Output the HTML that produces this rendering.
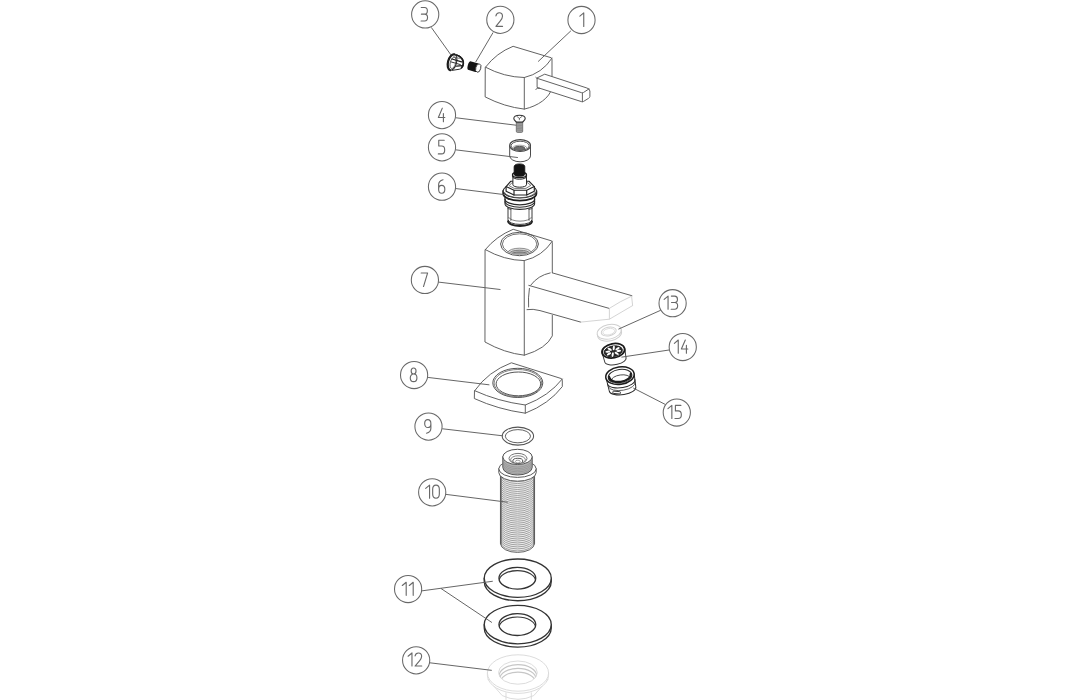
<!DOCTYPE html>
<html><head><meta charset="utf-8"><title>Exploded tap diagram</title>
<style>
html,body{margin:0;padding:0;background:#fff;font-family:"Liberation Sans",sans-serif;}
svg{display:block}
</style></head><body>
<svg width="1091" height="700" viewBox="0 0 1091 700">
<rect width="1091" height="700" fill="#fff"/>
<path d="M485.5,67.2 Q496.5,52.8 513.1,46.3 L551.0,57.7 Q552.0,58.1 552.0,59.300000000000004 L552.0,88 C549.5,98 538,106 524.3,109.1 Q504.6,106.9 485.5,97.1 Z" fill="#fff" stroke="#5a5a5a" stroke-width="0.95" stroke-linecap="round" stroke-linejoin="round" />
<path d="M485.5,67.2 Q504,77.1 524.3,77.5 Q542.1,73.4 552.0,58.1" fill="none" stroke="#5a5a5a" stroke-width="0.95" stroke-linecap="round" stroke-linejoin="round" />
<line x1="524.3" y1="77.5" x2="524.3" y2="109.1" stroke="#5a5a5a" stroke-width="0.95" stroke-linecap="round"/>
<path d="M545.1,74.3 L586.9,88 Q589.6,88.6 589.9,91 L589.9,96.4 Q589.8,97.6 588.6,98.3 L583.6,101.4 Q582.6,102 581.4,101.6 L537.1,87.4 L537.1,78.3 Z" fill="#fff" stroke="#5a5a5a" stroke-width="0.95" stroke-linecap="round" stroke-linejoin="round" />
<path d="M537.1,78.3 L581.6,92.7 Q582.6,93 583.6,92.4 L589,88.9" fill="none" stroke="#5a5a5a" stroke-width="0.95" stroke-linecap="round" stroke-linejoin="round" />
<line x1="582.4" y1="93" x2="582.4" y2="101.7" stroke="#5a5a5a" stroke-width="0.95" stroke-linecap="round"/>
<path d="M535.8,77.4 Q536.6,78.2 537.1,78.3" fill="none" stroke="#5a5a5a" stroke-width="0.95" stroke-linecap="round" stroke-linejoin="round" />
<path d="M535.8,89.2 Q537,88 539.6,88.2" fill="none" stroke="#5a5a5a" stroke-width="0.95" stroke-linecap="round" stroke-linejoin="round" />
<g transform="rotate(15.5 474.5 67)">
<rect x="467.6" y="62.5" width="11.2" height="9.0" rx="2.2" ry="4.2" fill="#151515"/>
<ellipse cx="478.4" cy="67.0" rx="2.5" ry="4.3" fill="#fff" stroke="#3a3a3a" stroke-width="0.9"/>
</g>
<path d="M454.6,54.6 C458.6,54.8 461.8,56.6 462.9,59.4 L463.4,64.2 C463.4,66.8 462,68.6 459.6,69.2 L452.6,70.3 Z" fill="#fff" stroke="#2a2a2a" stroke-width="1.0" stroke-linecap="round" stroke-linejoin="round" />
<path d="M456.4,55.0 C460.6,56.4 463.9,60 463.3,63.6 Q463,66 461.6,67.6" fill="none" stroke="#1c1c1c" stroke-width="1.7" stroke-linecap="round" stroke-linejoin="round" />
<g transform="rotate(15 452.3 62.3)">
<ellipse cx="452.3" cy="62.3" rx="4.3" ry="8.2" fill="#fff" stroke="#1c1c1c" stroke-width="1.0"/>
<path d="M452.3,54.1 A4.3,8.2 0 0 0 452.3,70.5" fill="none" stroke="#1c1c1c" stroke-width="2.2" stroke-linecap="round" stroke-linejoin="round" />
<ellipse cx="453.1" cy="62.6" rx="2.7" ry="5.8" fill="none" stroke="#444" stroke-width="0.8"/>
</g>
<line x1="452.0" y1="59.0" x2="461.6" y2="61.9" stroke="#1c1c1c" stroke-width="1.3" stroke-linecap="round"/>
<line x1="451.4" y1="62.0" x2="460.4" y2="64.6" stroke="#333" stroke-width="1.0" stroke-linecap="round"/>
<line x1="456.6" y1="66.2" x2="462.4" y2="65.6" stroke="#1c1c1c" stroke-width="1.2" stroke-linecap="round"/>
<line x1="453.6" y1="57.0" x2="459.4" y2="58.4" stroke="#555" stroke-width="0.8" stroke-linecap="round"/>
<rect x="516.3" y="121.2" width="6.4" height="11.2" rx="1.2" fill="#a2a2a2" stroke="#666" stroke-width="0.8"/>
<line x1="516.6" y1="123.6" x2="522.4" y2="124.1" stroke="#7a7a7a" stroke-width="0.6" stroke-linecap="round"/>
<line x1="516.6" y1="125.2" x2="522.4" y2="125.7" stroke="#7a7a7a" stroke-width="0.6" stroke-linecap="round"/>
<line x1="516.6" y1="126.8" x2="522.4" y2="127.3" stroke="#7a7a7a" stroke-width="0.6" stroke-linecap="round"/>
<line x1="516.6" y1="128.4" x2="522.4" y2="128.9" stroke="#7a7a7a" stroke-width="0.6" stroke-linecap="round"/>
<line x1="516.6" y1="130.0" x2="522.4" y2="130.5" stroke="#7a7a7a" stroke-width="0.6" stroke-linecap="round"/>
<path d="M513.8,118.5 C513.8,116.4 516.4,115.2 519.5,115.2 C522.6,115.2 525.2,116.4 525.2,118.5 C525.2,120.3 523.2,121.2 522.6,122.1 L516.4,122.1 C515.8,121.2 513.8,120.3 513.8,118.5 Z" fill="#fff" stroke="#333" stroke-width="1.1" stroke-linecap="round" stroke-linejoin="round" />
<path d="M517.0,116.5 L519.4,118.4 L522.0,116.4 M519.4,118.4 L519.4,119.8" fill="none" stroke="#555" stroke-width="0.8" stroke-linecap="round" stroke-linejoin="round" />
<path d="M509.70000000000005,145.6 L509.70000000000005,155.9 A10.4,5.9 0 0 0 530.5,155.9 L530.5,145.6" fill="#fff" stroke="#4a4a4a" stroke-width="1.0" stroke-linecap="round" stroke-linejoin="round" />
<ellipse cx="520.1" cy="145.5" rx="10.4" ry="5.9" fill="#fff" stroke="#444" stroke-width="1.1"/>
<ellipse cx="520.1" cy="145.8" rx="9.1" ry="4.6" fill="none" stroke="#555" stroke-width="1.0"/>
<clipPath id="c5"><ellipse cx="520.1" cy="145.8" rx="9.1" ry="4.6"/></clipPath>
<g clip-path="url(#c5)">
<ellipse cx="519.8000000000001" cy="148.3" rx="7.2" ry="3.1" fill="none" stroke="#8a8a8a" stroke-width="0.8"/>
<ellipse cx="519.5" cy="148.5" rx="5.4" ry="2.1" fill="#6e6e6e" stroke="#444" stroke-width="0.9"/>
</g>
<path d="M508.0,204 L508.0,219.6 A12,4.8 0 0 0 532.0,219.6 L532.0,204 Z" fill="#fff" stroke="#3a3a3a" stroke-width="1.0" stroke-linecap="round" stroke-linejoin="round" />
<path d="M508.0,221.2 A12,4.8 0 0 0 532.0,221.2" fill="none" stroke="#222" stroke-width="1.9" stroke-linecap="round" stroke-linejoin="round" />
<path d="M508.6,217.4 A11.6,4.6 0 0 0 531.4,217.4" fill="none" stroke="#666" stroke-width="0.8" stroke-linecap="round" stroke-linejoin="round" />
<line x1="510.9" y1="207.5" x2="510.9" y2="220.4" stroke="#555" stroke-width="0.9" stroke-linecap="round"/>
<line x1="529.0" y1="207.5" x2="529.0" y2="220.4" stroke="#555" stroke-width="0.9" stroke-linecap="round"/>
<path d="M508.0,208.6 L510.9,209.4 M532.0,208.6 L529.0,209.4" fill="none" stroke="#444" stroke-width="0.9" stroke-linecap="round" stroke-linejoin="round" />
<path d="M505.0,196 L505.0,203.8 A14.8,5.6 0 0 0 534.6,203.8 L534.6,196 Z" fill="#fff" stroke="#2a2a2a" stroke-width="1.1" stroke-linecap="round" stroke-linejoin="round" />
<path d="M505.0,199.2 A14.8,5.6 0 0 0 534.6,199.2" fill="none" stroke="#2a2a2a" stroke-width="1.3" stroke-linecap="round" stroke-linejoin="round" />
<path d="M505.0,201.6 A14.8,5.6 0 0 0 534.6,201.6" fill="none" stroke="#2a2a2a" stroke-width="1.1" stroke-linecap="round" stroke-linejoin="round" />
<path d="M503.2,191 L503.2,193.6 A16.6,7 0 0 0 536.4,193.6 L536.4,191 Z" fill="#fff" stroke="#1e1e1e" stroke-width="1.8" stroke-linecap="round" stroke-linejoin="round" />
<ellipse cx="519.8" cy="191" rx="16.6" ry="7" fill="#fff" stroke="#2a2a2a" stroke-width="1.1"/>
<path d="M504.4,192.4 A15.6,6.3 0 0 0 535.2,192.4" fill="none" stroke="#555" stroke-width="0.8" stroke-linecap="round" stroke-linejoin="round" />
<path d="M506.1,186.6 L510.9,181.2 L528.9,181.2 L534.3,186.6 L534.3,191.2 L526.7,195.0 L514.0,195.0 L506.1,191.2 Z" fill="#fff" stroke="#222" stroke-width="1.15" stroke-linecap="round" stroke-linejoin="round" />
<path d="M506.1,186.6 L514.0,190.2 L526.7,190.2 L534.3,186.6 M514.0,190.2 L514.0,195.0 M526.7,190.2 L526.7,195.0" fill="none" stroke="#222" stroke-width="1.15" stroke-linecap="round" stroke-linejoin="round" />
<path d="M509.4,185.4 L511.9,182.8 L527.8,182.8 L530.8,185.4 L525.9,188.4 L514.6,188.4 Z" fill="none" stroke="#555" stroke-width="0.8" stroke-linecap="round" stroke-linejoin="round" />
<path d="M512.9,175.4 L512.9,184.8 A6.8,2.4 0 0 0 526.5,184.8 L526.5,175.4 Z" fill="#fff" stroke="#2a2a2a" stroke-width="1.0" stroke-linecap="round" stroke-linejoin="round" />
<path d="M512.5,174.9 L512.5,176.6 A7,2.6 0 0 0 526.5,176.6 L526.5,174.9 Z" fill="#fff" stroke="#222" stroke-width="1.0" stroke-linecap="round" stroke-linejoin="round" />
<ellipse cx="519.5" cy="174.9" rx="7.0" ry="2.6" fill="#fff" stroke="#1e1e1e" stroke-width="1.4"/>
<path d="M514.1,166.6 Q514.1,163.9 519.4,163.9 Q524.8,163.9 524.8,166.6 L524.8,174.4 A5.35,1.9 0 0 1 514.1,174.4 Z" fill="#141414" stroke="#141414" stroke-width="0.8" stroke-linecap="round" stroke-linejoin="round" />
<path d="M485.3,249.6 Q496.5,236 513.2,229.3 L551.3,240.79999999999998 Q552.3,241.2 552.3,242.39999999999998 L552.3,335.9 Q546.4,348.6 524.3,355.2 Q504.6,353 485.3,342.2 Z" fill="#fff" stroke="#5a5a5a" stroke-width="0.95" stroke-linecap="round" stroke-linejoin="round" />
<path d="M485.3,249.6 Q504,260.2 524.2,260.6 Q542.3,256.4 552.3,241.2" fill="none" stroke="#5a5a5a" stroke-width="0.95" stroke-linecap="round" stroke-linejoin="round" />
<line x1="524.2" y1="260.6" x2="524.3" y2="355.2" stroke="#5a5a5a" stroke-width="0.95" stroke-linecap="round"/>
<ellipse cx="519.5" cy="244.0" rx="18.9" ry="11.7" fill="none" stroke="#555" stroke-width="1.0"/>
<ellipse cx="519.6" cy="244.1" rx="17.2" ry="10.3" fill="none" stroke="#666" stroke-width="0.9"/>
<clipPath id="c7"><ellipse cx="519.6" cy="244.1" rx="17.2" ry="10.3"/></clipPath>
<g clip-path="url(#c7)">
<ellipse cx="519.6" cy="252.4" rx="11.5" ry="4.2" fill="#ddd" stroke="#777" stroke-width="0.8"/>
<ellipse cx="519.6" cy="253.4" rx="10" ry="3.2" fill="#bbb" stroke="#666" stroke-width="0.8"/>
<ellipse cx="519.6" cy="254.4" rx="8.4" ry="2.4" fill="#999" stroke="#666" stroke-width="0.8"/>
</g>
<path d="M552.4,272.9 L632.1,295.7 L632.9,304.6 Q632.9,305.6 632,306.2 L610.4,318.6 Q609.3,319.3 608,319.4 L581.6,322 Q580.4,322 579.2,321.7 L552.4,315 L527.4,309.2 L529.3,288 L531,285 Q538,275 550,272.9 Z" fill="#fff" stroke="none" stroke-width="0" stroke-linecap="round" stroke-linejoin="round" />
<path d="M552.4,272.9 L631.9,295.7" fill="none" stroke="#5a5a5a" stroke-width="0.95" stroke-linecap="round" stroke-linejoin="round" />
<path d="M528.8,285.4 L609.2,308.4" fill="none" stroke="#5a5a5a" stroke-width="0.95" stroke-linecap="round" stroke-linejoin="round" />
<path d="M609.6,308.2 Q620,301.4 631.6,296.2 L632.6,305.4" fill="none" stroke="#d2d2d2" stroke-width="0.95" stroke-linecap="round" stroke-linejoin="round" />
<line x1="609.4" y1="308.8" x2="609.4" y2="319" stroke="#d2d2d2" stroke-width="0.95" stroke-linecap="round"/>
<path d="M550.2,272.9 Q538,275.4 530.7,285.2" fill="none" stroke="#5a5a5a" stroke-width="0.95" stroke-linecap="round" stroke-linejoin="round" />
<path d="M529.4,288.4 Q528,298 528.6,307" fill="none" stroke="#5a5a5a" stroke-width="0.95" stroke-linecap="round" stroke-linejoin="round" />
<path d="M527,309.6 Q533,308.6 540,310.6 L580.7,322.1" fill="none" stroke="#5a5a5a" stroke-width="0.95" stroke-linecap="round" stroke-linejoin="round" />
<path d="M580.7,322.1 L609.4,319.2 L632.6,305.6" fill="none" stroke="#d2d2d2" stroke-width="0.95" stroke-linecap="round" stroke-linejoin="round" />
<g transform="rotate(-12 609.2 331.8)">
<path d="M597.0,331.8 L597.0,333.8 A12.2,7.2 0 0 0 621.4,333.8 L621.4,331.8" fill="#fff" stroke="#cfcfcf" stroke-width="0.95" stroke-linecap="round" stroke-linejoin="round" />
<ellipse cx="609.2" cy="331.8" rx="12.2" ry="7.2" fill="#fff" stroke="#cfcfcf" stroke-width="0.95"/>
<ellipse cx="608.8" cy="331.4" rx="7.6" ry="4.3" fill="none" stroke="#cfcfcf" stroke-width="0.95"/>
<ellipse cx="608.8" cy="331.6" rx="6.0" ry="3.1" fill="none" stroke="#d8d8d8" stroke-width="0.8"/>
</g>
<g transform="rotate(-11 613.1 350.6)">
<path d="M601.9,351 L602.8,360.6 A10.8,4.6 0 0 0 624.4,359.8 L625.0,351 Z" fill="#fff" stroke="#3a3a3a" stroke-width="0.95" stroke-linecap="round" stroke-linejoin="round" />
<ellipse cx="613.3" cy="350.8" rx="11.5" ry="7.1" fill="#fff" stroke="#1a1a1a" stroke-width="1.8"/>
<ellipse cx="613.1" cy="351.3" rx="9.3" ry="5.3" fill="#2a2a2a" stroke="#1a1a1a" stroke-width="0.8"/>
<ellipse cx="618.58" cy="351.97" rx="2.4" ry="1.05" fill="#fff" transform="rotate(6.9 618.58 351.97)"/>
<ellipse cx="616.15" cy="353.98" rx="2.4" ry="1.05" fill="#fff" transform="rotate(41.3 616.15 353.98)"/>
<ellipse cx="611.94" cy="354.43" rx="2.4" ry="1.05" fill="#fff" transform="rotate(110.4 611.94 354.43)"/>
<ellipse cx="608.40" cy="353.04" rx="2.4" ry="1.05" fill="#fff" transform="rotate(159.6 608.40 353.04)"/>
<ellipse cx="607.62" cy="350.63" rx="2.4" ry="1.05" fill="#fff" transform="rotate(-173.1 607.62 350.63)"/>
<ellipse cx="610.05" cy="348.62" rx="2.4" ry="1.05" fill="#fff" transform="rotate(-138.7 610.05 348.62)"/>
<ellipse cx="614.26" cy="348.17" rx="2.4" ry="1.05" fill="#fff" transform="rotate(-69.6 614.26 348.17)"/>
<ellipse cx="617.80" cy="349.56" rx="2.4" ry="1.05" fill="#fff" transform="rotate(-20.4 617.80 349.56)"/>
</g>
<g transform="rotate(-8 620.3 378)">
<path d="M606.2,376 L607.6,389.6 A13.4,5.6 0 0 0 634.4,389.0 L634.6,376 Z" fill="#fff" stroke="#2a2a2a" stroke-width="1.0" stroke-linecap="round" stroke-linejoin="round" />
<ellipse cx="620.3" cy="375.6" rx="14.3" ry="8.7" fill="#fff" stroke="#1c1c1c" stroke-width="1.5"/>
<ellipse cx="620.3" cy="376.2" rx="11.9" ry="6.8" fill="#fff" stroke="#2a2a2a" stroke-width="1.0"/>
<clipPath id="c15"><ellipse cx="620.3" cy="376.2" rx="11.9" ry="6.8"/></clipPath>
<g clip-path="url(#c15)">
<ellipse cx="620.6" cy="379.6" rx="9.6" ry="4.6" fill="#fff" stroke="#444" stroke-width="0.9"/>
<path d="M608.4,376.2 A11.9,6.8 0 0 0 632.2,376.2" fill="none" stroke="#1c1c1c" stroke-width="4.6" stroke-linecap="round" stroke-linejoin="round" />
</g>
<path d="M606.8,382.2 A13.6,5.8 0 0 0 634.5,381.4" fill="none" stroke="#2a2a2a" stroke-width="1.0" stroke-linecap="round" stroke-linejoin="round" />
<path d="M607.2,385.0 A13.4,5.8 0 0 0 634.4,384.2" fill="none" stroke="#444" stroke-width="0.8" stroke-linecap="round" stroke-linejoin="round" />
<rect x="610.8" y="390.6" width="7.6" height="2.3" rx="0.8" fill="#fff" stroke="#2a2a2a" stroke-width="0.9" transform="rotate(13 614 392)"/>
</g>
<path d="M474.7,390.7 Q488,371.6 511.4,362.8 L561.0999999999999,378.5 Q562.3,379.0 562.3,380.2 L562.3,386.6 Q549,404 525.3,413.2 Q498,409.4 474.7,398.7 Z" fill="#fff" stroke="#5a5a5a" stroke-width="0.95" stroke-linecap="round" stroke-linejoin="round" />
<path d="M474.7,390.7 Q498,401.4 525.3,405.0 Q549,396 562.3,379.0" fill="none" stroke="#5a5a5a" stroke-width="0.95" stroke-linecap="round" stroke-linejoin="round" />
<line x1="525.3" y1="405.0" x2="525.3" y2="413.2" stroke="#5a5a5a" stroke-width="0.95" stroke-linecap="round"/>
<ellipse cx="517.8" cy="382.9" rx="25.0" ry="14.6" fill="none" stroke="#555" stroke-width="1.0"/>
<ellipse cx="517.9" cy="383.1" rx="23.8" ry="13.6" fill="none" stroke="#6a6a6a" stroke-width="0.85"/>
<ellipse cx="518.4" cy="383.9" rx="22.3" ry="11.9" fill="none" stroke="#555" stroke-width="1.0"/>
<ellipse cx="517.9" cy="436.1" rx="15.7" ry="9.0" fill="#fff" stroke="#555" stroke-width="1.05"/>
<ellipse cx="517.9" cy="436.2" rx="12.6" ry="6.6" fill="none" stroke="#5a5a5a" stroke-width="0.95"/>
<path d="M500.5,476.0 L500.5,543.8 A17.0,8.6 0 0 0 534.5,543.8 L534.5,476.0 Z" fill="#ededed" stroke="none" stroke-width="0" stroke-linecap="round" stroke-linejoin="round" />
<path d="M500.5,473.00 A17.0,8.6 0 0 0 534.5,473.00" fill="none" stroke="#8e8e8e" stroke-width="0.8" stroke-linecap="round" stroke-linejoin="round" />
<path d="M500.5,474.98 A17.0,8.6 0 0 0 534.5,474.98" fill="none" stroke="#8e8e8e" stroke-width="0.8" stroke-linecap="round" stroke-linejoin="round" />
<path d="M500.5,476.96 A17.0,8.6 0 0 0 534.5,476.96" fill="none" stroke="#8e8e8e" stroke-width="0.8" stroke-linecap="round" stroke-linejoin="round" />
<path d="M500.5,478.94 A17.0,8.6 0 0 0 534.5,478.94" fill="none" stroke="#8e8e8e" stroke-width="0.8" stroke-linecap="round" stroke-linejoin="round" />
<path d="M500.5,480.92 A17.0,8.6 0 0 0 534.5,480.92" fill="none" stroke="#8e8e8e" stroke-width="0.8" stroke-linecap="round" stroke-linejoin="round" />
<path d="M500.5,482.90 A17.0,8.6 0 0 0 534.5,482.90" fill="none" stroke="#8e8e8e" stroke-width="0.8" stroke-linecap="round" stroke-linejoin="round" />
<path d="M500.5,484.88 A17.0,8.6 0 0 0 534.5,484.88" fill="none" stroke="#8e8e8e" stroke-width="0.8" stroke-linecap="round" stroke-linejoin="round" />
<path d="M500.5,486.86 A17.0,8.6 0 0 0 534.5,486.86" fill="none" stroke="#8e8e8e" stroke-width="0.8" stroke-linecap="round" stroke-linejoin="round" />
<path d="M500.5,488.84 A17.0,8.6 0 0 0 534.5,488.84" fill="none" stroke="#8e8e8e" stroke-width="0.8" stroke-linecap="round" stroke-linejoin="round" />
<path d="M500.5,490.82 A17.0,8.6 0 0 0 534.5,490.82" fill="none" stroke="#8e8e8e" stroke-width="0.8" stroke-linecap="round" stroke-linejoin="round" />
<path d="M500.5,492.80 A17.0,8.6 0 0 0 534.5,492.80" fill="none" stroke="#8e8e8e" stroke-width="0.8" stroke-linecap="round" stroke-linejoin="round" />
<path d="M500.5,494.78 A17.0,8.6 0 0 0 534.5,494.78" fill="none" stroke="#8e8e8e" stroke-width="0.8" stroke-linecap="round" stroke-linejoin="round" />
<path d="M500.5,496.76 A17.0,8.6 0 0 0 534.5,496.76" fill="none" stroke="#8e8e8e" stroke-width="0.8" stroke-linecap="round" stroke-linejoin="round" />
<path d="M500.5,498.74 A17.0,8.6 0 0 0 534.5,498.74" fill="none" stroke="#8e8e8e" stroke-width="0.8" stroke-linecap="round" stroke-linejoin="round" />
<path d="M500.5,500.72 A17.0,8.6 0 0 0 534.5,500.72" fill="none" stroke="#8e8e8e" stroke-width="0.8" stroke-linecap="round" stroke-linejoin="round" />
<path d="M500.5,502.70 A17.0,8.6 0 0 0 534.5,502.70" fill="none" stroke="#8e8e8e" stroke-width="0.8" stroke-linecap="round" stroke-linejoin="round" />
<path d="M500.5,504.68 A17.0,8.6 0 0 0 534.5,504.68" fill="none" stroke="#8e8e8e" stroke-width="0.8" stroke-linecap="round" stroke-linejoin="round" />
<path d="M500.5,506.66 A17.0,8.6 0 0 0 534.5,506.66" fill="none" stroke="#8e8e8e" stroke-width="0.8" stroke-linecap="round" stroke-linejoin="round" />
<path d="M500.5,508.64 A17.0,8.6 0 0 0 534.5,508.64" fill="none" stroke="#8e8e8e" stroke-width="0.8" stroke-linecap="round" stroke-linejoin="round" />
<path d="M500.5,510.62 A17.0,8.6 0 0 0 534.5,510.62" fill="none" stroke="#8e8e8e" stroke-width="0.8" stroke-linecap="round" stroke-linejoin="round" />
<path d="M500.5,512.60 A17.0,8.6 0 0 0 534.5,512.60" fill="none" stroke="#8e8e8e" stroke-width="0.8" stroke-linecap="round" stroke-linejoin="round" />
<path d="M500.5,514.58 A17.0,8.6 0 0 0 534.5,514.58" fill="none" stroke="#8e8e8e" stroke-width="0.8" stroke-linecap="round" stroke-linejoin="round" />
<path d="M500.5,516.56 A17.0,8.6 0 0 0 534.5,516.56" fill="none" stroke="#8e8e8e" stroke-width="0.8" stroke-linecap="round" stroke-linejoin="round" />
<path d="M500.5,518.54 A17.0,8.6 0 0 0 534.5,518.54" fill="none" stroke="#8e8e8e" stroke-width="0.8" stroke-linecap="round" stroke-linejoin="round" />
<path d="M500.5,520.52 A17.0,8.6 0 0 0 534.5,520.52" fill="none" stroke="#8e8e8e" stroke-width="0.8" stroke-linecap="round" stroke-linejoin="round" />
<path d="M500.5,522.50 A17.0,8.6 0 0 0 534.5,522.50" fill="none" stroke="#8e8e8e" stroke-width="0.8" stroke-linecap="round" stroke-linejoin="round" />
<path d="M500.5,524.48 A17.0,8.6 0 0 0 534.5,524.48" fill="none" stroke="#8e8e8e" stroke-width="0.8" stroke-linecap="round" stroke-linejoin="round" />
<path d="M500.5,526.46 A17.0,8.6 0 0 0 534.5,526.46" fill="none" stroke="#8e8e8e" stroke-width="0.8" stroke-linecap="round" stroke-linejoin="round" />
<path d="M500.5,528.44 A17.0,8.6 0 0 0 534.5,528.44" fill="none" stroke="#8e8e8e" stroke-width="0.8" stroke-linecap="round" stroke-linejoin="round" />
<path d="M500.5,530.42 A17.0,8.6 0 0 0 534.5,530.42" fill="none" stroke="#8e8e8e" stroke-width="0.8" stroke-linecap="round" stroke-linejoin="round" />
<path d="M500.5,532.40 A17.0,8.6 0 0 0 534.5,532.40" fill="none" stroke="#8e8e8e" stroke-width="0.8" stroke-linecap="round" stroke-linejoin="round" />
<path d="M500.5,534.38 A17.0,8.6 0 0 0 534.5,534.38" fill="none" stroke="#8e8e8e" stroke-width="0.8" stroke-linecap="round" stroke-linejoin="round" />
<path d="M500.5,536.36 A17.0,8.6 0 0 0 534.5,536.36" fill="none" stroke="#8e8e8e" stroke-width="0.8" stroke-linecap="round" stroke-linejoin="round" />
<path d="M500.5,538.34 A17.0,8.6 0 0 0 534.5,538.34" fill="none" stroke="#8e8e8e" stroke-width="0.8" stroke-linecap="round" stroke-linejoin="round" />
<path d="M500.5,540.32 A17.0,8.6 0 0 0 534.5,540.32" fill="none" stroke="#8e8e8e" stroke-width="0.8" stroke-linecap="round" stroke-linejoin="round" />
<path d="M500.5,542.30 A17.0,8.6 0 0 0 534.5,542.30" fill="none" stroke="#8e8e8e" stroke-width="0.8" stroke-linecap="round" stroke-linejoin="round" />
<line x1="500.7" y1="476.0" x2="500.7" y2="543.8" stroke="#5c5c5c" stroke-width="1.5" stroke-linecap="round"/>
<line x1="534.3" y1="476.0" x2="534.3" y2="543.8" stroke="#5c5c5c" stroke-width="1.5" stroke-linecap="round"/>
<path d="M500.5,543.8 A17.0,8.6 0 0 0 534.5,543.8" fill="none" stroke="#666" stroke-width="1.0" stroke-linecap="round" stroke-linejoin="round" />
<path d="M498.8,468.8 L498.8,472.6 A18.7,8.6 0 0 0 536.2,472.6 L536.2,468.8 Z" fill="#fff" stroke="#5a5a5a" stroke-width="1.0" stroke-linecap="round" stroke-linejoin="round" />
<ellipse cx="517.5" cy="468.8" rx="18.7" ry="8.6" fill="#fff" stroke="#5a5a5a" stroke-width="1.0"/>
<path d="M502.8,456.9 L502.8,467.4 A14.7,7.6 0 0 0 532.2,467.4 L532.2,456.9 Z" fill="#b2b2b2" stroke="#555" stroke-width="1.0" stroke-linecap="round" stroke-linejoin="round" />
<path d="M502.8,459.5 A14.7,7.6 0 0 0 532.2,459.5" fill="none" stroke="#8a8a8a" stroke-width="0.6" stroke-linecap="round" stroke-linejoin="round" />
<path d="M502.8,461.1 A14.7,7.6 0 0 0 532.2,461.1" fill="none" stroke="#8a8a8a" stroke-width="0.6" stroke-linecap="round" stroke-linejoin="round" />
<path d="M502.8,462.7 A14.7,7.6 0 0 0 532.2,462.7" fill="none" stroke="#8a8a8a" stroke-width="0.6" stroke-linecap="round" stroke-linejoin="round" />
<path d="M502.8,464.3 A14.7,7.6 0 0 0 532.2,464.3" fill="none" stroke="#8a8a8a" stroke-width="0.6" stroke-linecap="round" stroke-linejoin="round" />
<path d="M502.8,465.9 A14.7,7.6 0 0 0 532.2,465.9" fill="none" stroke="#8a8a8a" stroke-width="0.6" stroke-linecap="round" stroke-linejoin="round" />
<ellipse cx="517.5" cy="456.9" rx="14.7" ry="7.6" fill="#fff" stroke="#555" stroke-width="1.0"/>
<ellipse cx="518.0" cy="458.5" rx="9.0" ry="5.1" fill="none" stroke="#666" stroke-width="0.9"/>
<clipPath id="c10"><ellipse cx="518" cy="458.5" rx="9" ry="5.1"/></clipPath>
<g clip-path="url(#c10)">
<ellipse cx="518.0" cy="459.8" rx="7.4" ry="4.0" fill="none" stroke="#777" stroke-width="0.9"/>
<ellipse cx="517.8" cy="461.0" rx="5.0" ry="2.7" fill="none" stroke="#555" stroke-width="1.0"/>
<ellipse cx="517.8" cy="461.6" rx="2.4" ry="1.4" fill="none" stroke="#777" stroke-width="0.7"/>
</g>
<path d="M484.25,578.2 L484.25,581.5 A33.5,19.2 0 0 0 551.25,581.5 L551.25,578.2 Z" fill="#fff" stroke="#333" stroke-width="1.35" stroke-linecap="round" stroke-linejoin="round" />
<ellipse cx="517.75" cy="578.2" rx="33.5" ry="19.2" fill="#fff" stroke="#333" stroke-width="1.35"/>
<clipPath id="w578"><ellipse cx="517.35" cy="578.2" rx="18.4" ry="10.9"/></clipPath>
<g clip-path="url(#w578)">
<ellipse cx="517.35" cy="581.5" rx="18.4" ry="10.9" fill="none" stroke="#3a3a3a" stroke-width="1.2"/>
</g>
<ellipse cx="517.35" cy="578.2" rx="18.4" ry="10.9" fill="none" stroke="#333" stroke-width="1.3"/>
<path d="M484.25,624.6 L484.25,627.9 A33.5,19.2 0 0 0 551.25,627.9 L551.25,624.6 Z" fill="#fff" stroke="#333" stroke-width="1.35" stroke-linecap="round" stroke-linejoin="round" />
<ellipse cx="517.75" cy="624.6" rx="33.5" ry="19.2" fill="#fff" stroke="#333" stroke-width="1.35"/>
<clipPath id="w624"><ellipse cx="517.35" cy="624.6" rx="18.4" ry="10.9"/></clipPath>
<g clip-path="url(#w624)">
<ellipse cx="517.35" cy="627.9" rx="18.4" ry="10.9" fill="none" stroke="#3a3a3a" stroke-width="1.2"/>
</g>
<ellipse cx="517.35" cy="624.6" rx="18.4" ry="10.9" fill="none" stroke="#333" stroke-width="1.3"/>
<path d="M488.2,679.6 L502.2,695.6 Q518,703 533.8,695.6 L547.8,679.6 Z" fill="#fff" stroke="#dadada" stroke-width="0.95" stroke-linecap="round" stroke-linejoin="round" />
<line x1="506.0" y1="692.8" x2="506.0" y2="699.4" stroke="#dadada" stroke-width="0.95" stroke-linecap="round"/>
<line x1="531.3" y1="692.8" x2="531.3" y2="699.4" stroke="#dadada" stroke-width="0.95" stroke-linecap="round"/>
<path d="M487.4,673.0 L487.4,675.2 A30.6,18.2 0 0 0 548.6,675.2 L548.6,673.0 Z" fill="#fff" stroke="#dadada" stroke-width="0.95" stroke-linecap="round" stroke-linejoin="round" />
<ellipse cx="518.0" cy="673.0" rx="30.6" ry="18.2" fill="#fff" stroke="#dadada" stroke-width="0.95"/>
<clipPath id="c12"><ellipse cx="517.9" cy="672.6" rx="19.4" ry="11.6"/></clipPath>
<g clip-path="url(#c12)">
<ellipse cx="517.9" cy="675.9" rx="18.799999999999997" ry="11.2" fill="none" stroke="#c6c6c6" stroke-width="1.2"/>
<ellipse cx="517.9" cy="679.2" rx="18.2" ry="10.799999999999999" fill="none" stroke="#c6c6c6" stroke-width="1.2"/>
<ellipse cx="517.9" cy="682.5" rx="17.599999999999998" ry="10.399999999999999" fill="none" stroke="#c6c6c6" stroke-width="1.2"/>
</g>
<ellipse cx="517.9" cy="672.6" rx="19.4" ry="11.6" fill="none" stroke="#dadada" stroke-width="0.95"/>
<line x1="570.6" y1="31.1" x2="538.4" y2="61.3" stroke="#5e5e5e" stroke-width="0.95" stroke-linecap="round"/>
<line x1="492.9" y1="32.8" x2="475.9" y2="61.7" stroke="#5e5e5e" stroke-width="0.95" stroke-linecap="round"/>
<line x1="431.5" y1="27.7" x2="450.8" y2="54.7" stroke="#5e5e5e" stroke-width="0.95" stroke-linecap="round"/>
<line x1="456.2" y1="117.8" x2="516.0" y2="125.2" stroke="#5e5e5e" stroke-width="0.95" stroke-linecap="round"/>
<line x1="456.2" y1="149.9" x2="517.5" y2="157.5" stroke="#5e5e5e" stroke-width="0.95" stroke-linecap="round"/>
<line x1="456.2" y1="188.6" x2="503.4" y2="194.5" stroke="#5e5e5e" stroke-width="0.95" stroke-linecap="round"/>
<line x1="438.5" y1="282.1" x2="500.1" y2="289.5" stroke="#5e5e5e" stroke-width="0.95" stroke-linecap="round"/>
<line x1="428.5" y1="377.5" x2="489.0" y2="384.8" stroke="#5e5e5e" stroke-width="0.95" stroke-linecap="round"/>
<line x1="442.6" y1="428.8" x2="502.7" y2="435.8" stroke="#5e5e5e" stroke-width="0.95" stroke-linecap="round"/>
<line x1="446.1" y1="494.4" x2="507.3" y2="502.2" stroke="#5e5e5e" stroke-width="0.95" stroke-linecap="round"/>
<line x1="422.3" y1="590.8" x2="492.4" y2="581.3" stroke="#5e5e5e" stroke-width="0.95" stroke-linecap="round"/>
<line x1="441.3" y1="588.7" x2="491.6" y2="622.3" stroke="#5e5e5e" stroke-width="0.95" stroke-linecap="round"/>
<line x1="429.9" y1="662.8" x2="491.4" y2="670.3" stroke="#5e5e5e" stroke-width="0.95" stroke-linecap="round"/>
<line x1="660.4" y1="310.4" x2="618.8" y2="329.0" stroke="#5e5e5e" stroke-width="0.95" stroke-linecap="round"/>
<line x1="669.1" y1="350.0" x2="621.8" y2="357.1" stroke="#5e5e5e" stroke-width="0.95" stroke-linecap="round"/>
<line x1="665.0" y1="404.3" x2="633.6" y2="388.2" stroke="#5e5e5e" stroke-width="0.95" stroke-linecap="round"/>
<circle cx="581.5" cy="20.0" r="13.6" fill="#fff" stroke="#686868" stroke-width="1.05"/>
<path d="M0,3.5 L3.9,0 L3.9,14" transform="translate(579.85,12.80) scale(1.0,0.971)" fill="none" stroke="#686868" stroke-width="1.12" stroke-linecap="round" stroke-linejoin="round" vector-effect="non-scaling-stroke"/>
<circle cx="500.35" cy="19.8" r="13.6" fill="#fff" stroke="#686868" stroke-width="1.05"/>
<path d="M0,3.2 C0.4,1.2 1.8,0 3.7,0 C5.9,0 7.3,1.5 7.3,3.6 C7.3,5.4 6.3,6.8 4.9,8.4 L0,14 L7.4,14" transform="translate(495.92,12.75) scale(0.9,0.971)" fill="none" stroke="#686868" stroke-width="1.12" stroke-linecap="round" stroke-linejoin="round" vector-effect="non-scaling-stroke"/>
<circle cx="425.2" cy="14.4" r="13.6" fill="#fff" stroke="#686868" stroke-width="1.05"/>
<path d="M0.2,0 L3.9,0 C6,0 7,1.3 7,3.4 C7,5.6 6,6.9 3.9,6.9 L0.4,6.9 M3.9,6.9 C6.1,6.9 7.2,8.3 7.2,10.4 C7.2,12.6 6.1,14 3.9,14 L0,14" transform="translate(421.06,7.45) scale(0.9,0.971)" fill="none" stroke="#686868" stroke-width="1.12" stroke-linecap="round" stroke-linejoin="round" vector-effect="non-scaling-stroke"/>
<circle cx="442.0" cy="115.05" r="13.6" fill="#fff" stroke="#686868" stroke-width="1.05"/>
<path d="M4.4,0 L0,9.6 L7.2,9.6 M5.6,5.6 L5.6,14" transform="translate(438.36,108.15) scale(0.9,0.971)" fill="none" stroke="#686868" stroke-width="1.12" stroke-linecap="round" stroke-linejoin="round" vector-effect="non-scaling-stroke"/>
<circle cx="442.0" cy="147.3" r="13.6" fill="#fff" stroke="#686868" stroke-width="1.05"/>
<path d="M6.6,0 L0.5,0 L0.5,5.9 L3.6,5.9 C5.9,5.9 7.1,7.5 7.1,9.9 C7.1,12.4 5.9,14 3.6,14 L0,14" transform="translate(438.31,140.30) scale(0.9,0.971)" fill="none" stroke="#686868" stroke-width="1.12" stroke-linecap="round" stroke-linejoin="round" vector-effect="non-scaling-stroke"/>
<circle cx="442.0" cy="186.7" r="13.6" fill="#fff" stroke="#686868" stroke-width="1.05"/>
<path d="M0.5,9.8 C0.5,7.4 1.8,5.8 3.9,5.8 C6,5.8 7.4,7.4 7.4,9.9 C7.4,12.4 6,14 3.9,14 C1.8,14 0.5,12.4 0.5,9.8 L0.5,5.2 C0.5,2.4 2.4,0.7 5.4,0" transform="translate(438.17,179.70) scale(0.9,0.971)" fill="none" stroke="#686868" stroke-width="1.12" stroke-linecap="round" stroke-linejoin="round" vector-effect="non-scaling-stroke"/>
<circle cx="424.9" cy="279.95" r="13.6" fill="#fff" stroke="#686868" stroke-width="1.05"/>
<path d="M0,0 L7.2,0 L2.6,14" transform="translate(421.16,272.95) scale(0.9,0.971)" fill="none" stroke="#686868" stroke-width="1.12" stroke-linecap="round" stroke-linejoin="round" vector-effect="non-scaling-stroke"/>
<circle cx="414.1" cy="375.0" r="13.6" fill="#fff" stroke="#686868" stroke-width="1.05"/>
<path d="M3.7,0 C2.1,0 1.0,1.3 1.0,3.1 C1.0,4.9 2.1,6.2 3.7,6.2 C5.3,6.2 6.4,4.9 6.4,3.1 C6.4,1.3 5.3,0 3.7,0 Z M3.7,6.2 C1.5,6.2 0,7.9 0,10.2 C0,12.5 1.5,14 3.7,14 C5.9,14 7.4,12.5 7.4,10.2 C7.4,7.9 5.9,6.2 3.7,6.2 Z" transform="translate(410.27,368.00) scale(0.9,0.971)" fill="none" stroke="#686868" stroke-width="1.12" stroke-linecap="round" stroke-linejoin="round" vector-effect="non-scaling-stroke"/>
<circle cx="428.5" cy="426.6" r="13.6" fill="#fff" stroke="#686868" stroke-width="1.05"/>
<path d="M6.9,4.2 C6.9,6.6 5.6,8.2 3.5,8.2 C1.4,8.2 0,6.6 0,4.1 C0,1.6 1.4,0 3.5,0 C5.6,0 6.9,1.6 6.9,4.2 L6.9,8.8 C6.9,11.6 5,13.3 2,14" transform="translate(424.67,419.60) scale(0.9,0.971)" fill="none" stroke="#686868" stroke-width="1.12" stroke-linecap="round" stroke-linejoin="round" vector-effect="non-scaling-stroke"/>
<circle cx="432.2" cy="492.3" r="13.6" fill="#fff" stroke="#686868" stroke-width="1.05"/>
<path d="M0,3.5 L3.9,0 L3.9,14" transform="translate(425.67,485.10) scale(1.0,0.936)" fill="none" stroke="#686868" stroke-width="1.12" stroke-linecap="round" stroke-linejoin="round" vector-effect="non-scaling-stroke"/>
<path d="M3.7,0 C1.3,0 0,1.9 0,4.4 L0,9.6 C0,12.1 1.3,14 3.7,14 C6.1,14 7.4,12.1 7.4,9.6 L7.4,4.4 C7.4,1.9 6.1,0 3.7,0 Z" transform="translate(432.67,485.10) scale(0.9,0.936)" fill="none" stroke="#686868" stroke-width="1.12" stroke-linecap="round" stroke-linejoin="round" vector-effect="non-scaling-stroke"/>
<circle cx="408.1" cy="589.0" r="13.6" fill="#fff" stroke="#686868" stroke-width="1.05"/>
<path d="M0,3.5 L3.9,0 L3.9,14" transform="translate(402.30,582.25) scale(1.0,0.936)" fill="none" stroke="#686868" stroke-width="1.12" stroke-linecap="round" stroke-linejoin="round" vector-effect="non-scaling-stroke"/>
<path d="M0,3.5 L3.9,0 L3.9,14" transform="translate(409.30,582.25) scale(1.0,0.936)" fill="none" stroke="#686868" stroke-width="1.12" stroke-linecap="round" stroke-linejoin="round" vector-effect="non-scaling-stroke"/>
<circle cx="416.15" cy="660.35" r="13.6" fill="#fff" stroke="#686868" stroke-width="1.05"/>
<path d="M0,3.5 L3.9,0 L3.9,14" transform="translate(408.07,652.95) scale(1.0,0.936)" fill="none" stroke="#686868" stroke-width="1.12" stroke-linecap="round" stroke-linejoin="round" vector-effect="non-scaling-stroke"/>
<path d="M0,3.2 C0.4,1.2 1.8,0 3.7,0 C5.9,0 7.3,1.5 7.3,3.6 C7.3,5.4 6.3,6.8 4.9,8.4 L0,14 L7.4,14" transform="translate(415.07,652.95) scale(0.9,0.936)" fill="none" stroke="#686868" stroke-width="1.12" stroke-linecap="round" stroke-linejoin="round" vector-effect="non-scaling-stroke"/>
<circle cx="672.6" cy="303.2" r="13.6" fill="#fff" stroke="#686868" stroke-width="1.05"/>
<path d="M0,3.5 L3.9,0 L3.9,14" transform="translate(664.16,296.10) scale(1.0,0.936)" fill="none" stroke="#686868" stroke-width="1.12" stroke-linecap="round" stroke-linejoin="round" vector-effect="non-scaling-stroke"/>
<path d="M0.2,0 L3.9,0 C6,0 7,1.3 7,3.4 C7,5.6 6,6.9 3.9,6.9 L0.4,6.9 M3.9,6.9 C6.1,6.9 7.2,8.3 7.2,10.4 C7.2,12.6 6.1,14 3.9,14 L0,14" transform="translate(671.16,296.10) scale(0.9,0.936)" fill="none" stroke="#686868" stroke-width="1.12" stroke-linecap="round" stroke-linejoin="round" vector-effect="non-scaling-stroke"/>
<circle cx="682.75" cy="347.0" r="13.6" fill="#fff" stroke="#686868" stroke-width="1.05"/>
<path d="M0,3.5 L3.9,0 L3.9,14" transform="translate(674.36,340.05) scale(1.0,0.936)" fill="none" stroke="#686868" stroke-width="1.12" stroke-linecap="round" stroke-linejoin="round" vector-effect="non-scaling-stroke"/>
<path d="M4.4,0 L0,9.6 L7.2,9.6 M5.6,5.6 L5.6,14" transform="translate(681.36,340.05) scale(0.9,0.936)" fill="none" stroke="#686868" stroke-width="1.12" stroke-linecap="round" stroke-linejoin="round" vector-effect="non-scaling-stroke"/>
<circle cx="676.8" cy="412.5" r="13.6" fill="#fff" stroke="#686868" stroke-width="1.05"/>
<path d="M0,3.5 L3.9,0 L3.9,14" transform="translate(667.95,405.40) scale(1.0,0.936)" fill="none" stroke="#686868" stroke-width="1.12" stroke-linecap="round" stroke-linejoin="round" vector-effect="non-scaling-stroke"/>
<path d="M6.6,0 L0.5,0 L0.5,5.9 L3.6,5.9 C5.9,5.9 7.1,7.5 7.1,9.9 C7.1,12.4 5.9,14 3.6,14 L0,14" transform="translate(674.95,405.40) scale(0.9,0.936)" fill="none" stroke="#686868" stroke-width="1.12" stroke-linecap="round" stroke-linejoin="round" vector-effect="non-scaling-stroke"/>
</svg>
</body></html>
